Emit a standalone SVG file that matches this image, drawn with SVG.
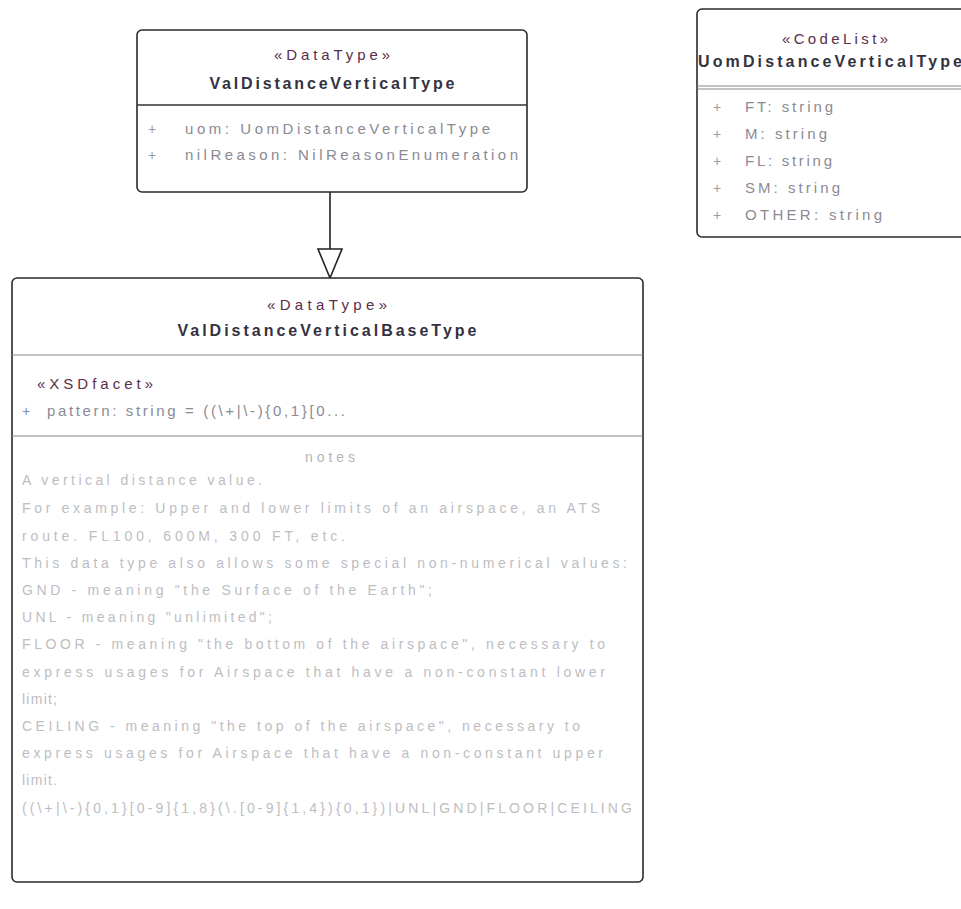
<svg xmlns="http://www.w3.org/2000/svg" width="961" height="909" viewBox="0 0 961 909">
<style>
.box{fill:#fff;stroke:#2a2a2a;stroke-width:1.6}
.div{stroke:#333;stroke-width:1.4}
.divl{stroke:#888;stroke-width:1.2}
text{font-family:"Liberation Sans","DejaVu Sans",sans-serif}
.st{font-size:15px;fill:#5a2d4a;text-anchor:middle}
.nm{font-size:16px;font-weight:bold;fill:#333340;text-anchor:middle}
.at{font-size:15px;fill:#8a8a95}
.pl{font-size:14px;fill:#9a9aa5}
.nt{font-size:14px;fill:#bdbdc2}
.ntc{font-size:14px;fill:#b5b5ba;text-anchor:middle}
.edge{stroke:#222;stroke-width:1.6;fill:none}
</style>
<rect width="961" height="909" fill="#fff"/>
<g id="connectors">
<line class="edge" x1="330" y1="192" x2="330" y2="249"/>
<polygon class="edge" fill="#fff" points="318,249 342,249 330,278"/>
</g>
<g id="ValDistanceVerticalType">
<rect class="box" x="137" y="30" width="390" height="162" rx="5"/>
<line class="div" x1="137" y1="105" x2="527" y2="105"/>
<text class="st" x="332" y="60" textLength="116" lengthAdjust="spacing">«DataType»</text>
<text class="nm" x="332" y="89" textLength="245" lengthAdjust="spacing">ValDistanceVerticalType</text>
<text class="pl" x="148" y="134">+</text>
<text class="at" x="185" y="134" textLength="305" lengthAdjust="spacing">uom: UomDistanceVerticalType</text>
<text class="pl" x="148" y="160">+</text>
<text class="at" x="185" y="160" textLength="333" lengthAdjust="spacing">nilReason: NilReasonEnumeration</text>
</g>
<g id="UomDistanceVerticalType">
<rect class="box" x="697" y="9" width="280" height="228" rx="5"/>
<line class="divl" x1="697" y1="86" x2="961" y2="86"/>
<line class="divl" x1="697" y1="89" x2="961" y2="89"/>
<text class="st" x="835" y="44" textLength="106" lengthAdjust="spacing">«CodeList»</text>
<text class="nm" x="830" y="67" textLength="264" lengthAdjust="spacing">UomDistanceVerticalType</text>
<text class="pl" x="713" y="112">+</text>
<text class="at" x="745" y="112" textLength="88" lengthAdjust="spacing">FT: string</text>
<text class="pl" x="713" y="139">+</text>
<text class="at" x="745" y="139" textLength="82" lengthAdjust="spacing">M: string</text>
<text class="pl" x="713" y="166">+</text>
<text class="at" x="745" y="166" textLength="87" lengthAdjust="spacing">FL: string</text>
<text class="pl" x="713" y="193">+</text>
<text class="at" x="745" y="193" textLength="95" lengthAdjust="spacing">SM: string</text>
<text class="pl" x="713" y="220">+</text>
<text class="at" x="745" y="220" textLength="137" lengthAdjust="spacing">OTHER: string</text>
</g>
<g id="ValDistanceVerticalBaseType">
<rect class="box" x="12" y="278" width="631" height="604" rx="5"/>
<line class="divl" x1="12" y1="355" x2="643" y2="355"/>
<line class="divl" x1="12" y1="436" x2="643" y2="436"/>
<text class="st" x="327" y="310" textLength="120" lengthAdjust="spacing">«DataType»</text>
<text class="nm" x="327" y="336" textLength="299" lengthAdjust="spacing">ValDistanceVerticalBaseType</text>
<text class="st" x="37" y="389" style="text-anchor:start" textLength="116" lengthAdjust="spacing">«XSDfacet»</text>
<text class="pl" x="22" y="416" style="fill:#7a8ab5">+</text>
<text class="at" x="47" y="416" textLength="298" lengthAdjust="spacing">pattern: string = ((\+|\-){0,1}[0...</text>
<text class="ntc" x="330" y="462" textLength="50" lengthAdjust="spacing">notes</text>
<text class="nt" x="22" y="485" textLength="240" lengthAdjust="spacing">A vertical distance value.</text>
<text class="nt" x="22" y="513" textLength="578" lengthAdjust="spacing">For example: Upper and lower limits of an airspace, an ATS</text>
<text class="nt" x="22" y="541" textLength="323" lengthAdjust="spacing">route. FL100, 600M, 300 FT, etc.</text>
<text class="nt" x="22" y="568" textLength="605" lengthAdjust="spacing">This data type also allows some special non-numerical values:</text>
<text class="nt" x="22" y="595" textLength="410" lengthAdjust="spacing">GND - meaning "the Surface of the Earth";</text>
<text class="nt" x="22" y="622" textLength="250" lengthAdjust="spacing">UNL - meaning "unlimited";</text>
<text class="nt" x="22" y="649" textLength="583" lengthAdjust="spacing">FLOOR - meaning "the bottom of the airspace", necessary to</text>
<text class="nt" x="22" y="677" textLength="583" lengthAdjust="spacing">express usages for Airspace that have a non-constant lower</text>
<text class="nt" x="22" y="704" textLength="35" lengthAdjust="spacing">limit;</text>
<text class="nt" x="22" y="731" textLength="558" lengthAdjust="spacing">CEILING - meaning "the top of the airspace", necessary to</text>
<text class="nt" x="22" y="758" textLength="581" lengthAdjust="spacing">express usages for Airspace that have a non-constant upper</text>
<text class="nt" x="22" y="785" textLength="35" lengthAdjust="spacing">limit.</text>
<text class="nt" x="22" y="813" textLength="610" lengthAdjust="spacing">((\+|\-){0,1}[0-9]{1,8}(\.[0-9]{1,4}){0,1})|UNL|GND|FLOOR|CEILING</text>
</g>
</svg>
